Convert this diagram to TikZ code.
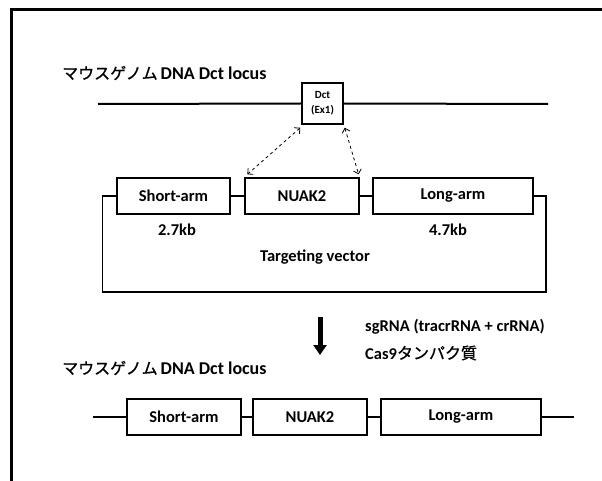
\documentclass[tikz,border=0pt]{standalone}
\usepackage{fontspec}
\setmainfont{Carlito}
\newfontfamily\jpfont{Noto Sans CJK JP}[AutoFakeBold=1]
\usetikzlibrary{arrows.meta}

\tikzset{
  box/.style={draw, line width=1.3pt, minimum height=36pt, inner sep=0pt,
    font=\fontsize{16.5}{19}\selectfont\bfseries},
  lab/.style={inner sep=0pt, font=\fontsize{16.5}{19}\selectfont\bfseries},
  titolo/.style={anchor=west, inner sep=0pt, font=\fontsize{18}{21}\selectfont\bfseries},
}

\begin{document}
\begin{tikzpicture}[x=1pt, y=-1pt]
    \useasboundingbox (0,0) rectangle (602,481);
    % Cornice
    \draw[line width=2.4pt] (602,9.5) -- (11.5,9.5) -- (11.5,481);

    % Locus genomico
    \node[titolo] (tit1) at (62,73) {{\jpfont\fontsize{16}{19}\selectfont マウスゲノム}\,DNA Dct locus};
    \node[draw, line width=1.5pt, minimum width=41pt, minimum height=41pt, inner sep=0pt,
          align=center, font=\fontsize{11}{15}\selectfont\bfseries] (dct) at (322.5,103.5) {Dct\\(Ex1)};
    \coordinate (g1) at (98,104);
    \coordinate (g2) at (548,104);
    \draw[line width=2pt] (g1) -- (dct.west);
    \draw[line width=2pt] (dct.east) -- (g2);

    % Vettore
    \node[box, minimum width=113pt] (corto) at (173.5,196) {Short-arm};
    \node[box, minimum width=114pt] (nuak) at (302,196) {NUAK2};
    \node[box, minimum width=160pt] (lungo) at (453,196) {Long-arm};
    \draw[line width=1.3pt] (corto.east) -- (nuak.west);
    \draw[line width=1.3pt] (nuak.east) -- (lungo.west);
    \draw[line width=1.3pt] (corto.west) -- ++(-14,0) |- (546,292) |- (lungo.east);
    \node[lab] (kb1) at (177,230) {2.7kb};
    \node[lab] (kb2) at (448,230) {4.7kb};
    \node[lab] (tv) at (315,257) {Targeting vector};

    % Frecce tratteggiate
    \draw[dashed, line width=0.8pt, {Straight Barb[length=4pt]}-{Straight Barb[length=4pt]}]
      ([shift={(-1,3)}]dct.south west) -- ([shift={(3,-3)}]nuak.north west);
    \draw[dashed, line width=0.8pt, {Straight Barb[length=4pt]}-{Straight Barb[length=4pt]}]
      ([shift={(1,3)}]dct.south east) -- ([shift={(-1,-3)}]nuak.north east);

    % Freccia e reagenti
    \coordinate (f1) at (320,317);
    \coordinate (f2) at (320,355);
    \draw[line width=5pt, -{Triangle[length=10pt, width=13pt]}] (f1) -- (f2);
    \node[lab, anchor=west] (sg) at (365,327) {sgRNA (tracrRNA + crRNA)};
    \node[lab, anchor=west] (cas) at (365,353) {Cas9{\jpfont\fontsize{16}{19}\selectfont タンパク質}};

    % Locus dopo
    \node[titolo] (tit2) at (62,368) {{\jpfont\fontsize{16}{19}\selectfont マウスゲノム}\,DNA Dct locus};
    \node[box, minimum width=114pt] (corto2) at (184,417) {Short-arm};
    \node[box, minimum width=114pt] (nuak2) at (310,417) {NUAK2};
    \node[box, minimum width=160pt] (lungo2) at (461,417) {Long-arm};
    \coordinate (h1) at (93,417);
    \coordinate (h2) at (574,417);
    \draw[line width=1.3pt] (h1) -- (corto2.west);
    \draw[line width=1.3pt] (corto2.east) -- (nuak2.west);
    \draw[line width=1.3pt] (nuak2.east) -- (lungo2.west);
    \draw[line width=1.3pt] (lungo2.east) -- (h2);
\end{tikzpicture}
\end{document}
